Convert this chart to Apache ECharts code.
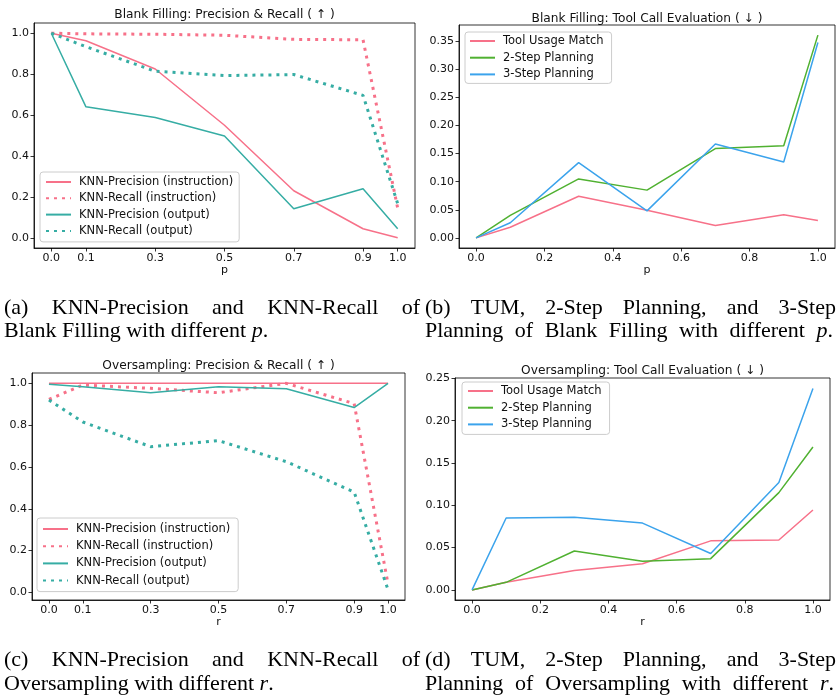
<!DOCTYPE html>
<html><head><meta charset="utf-8">
<script src="https://cdn.jsdelivr.net/npm/echarts@6/dist/echarts.min.js"></script>
<style>html,body{margin:0;padding:0;background:#fff}#c{width:839px;height:700px}</style>
</head><body><div id="c"></div>
<script>
// ---------- data ----------
const xs = [0.0, 0.1, 0.3, 0.5, 0.7, 0.9, 1.0];
const xTicksPR = [0.0, 0.1, 0.3, 0.5, 0.7, 0.9, 1.0];
const xTicksTool = [0.0, 0.2, 0.4, 0.6, 0.8, 1.0];
const yTicksPR = [0.0, 0.2, 0.4, 0.6, 0.8, 1.0];
const yTicksB = [0.00, 0.05, 0.10, 0.15, 0.20, 0.25, 0.30, 0.35];
const yTicksD = [0.00, 0.05, 0.10, 0.15, 0.20, 0.25];

// (a) Blank Filling: Precision & Recall
const aPrecInstr = [1.0, 0.963, 0.825, 0.55, 0.23, 0.044, 0.0];
const aRecInstr  = [1.0, 0.997, 0.995, 0.99, 0.97, 0.968, 0.145];
const aPrecOut   = [1.0, 0.64, 0.588, 0.498, 0.142, 0.24, 0.044];
const aRecOut    = [1.0, 0.934, 0.814, 0.793, 0.798, 0.696, 0.167];
// (b) Blank Filling: Tool Call Evaluation
const bTUM   = [0, 0.019, 0.074, 0.049, 0.022, 0.041, 0.031];
const b2Step = [0, 0.040, 0.105, 0.085, 0.159, 0.164, 0.361];
const b3Step = [0, 0.027, 0.134, 0.048, 0.167, 0.135, 0.348];
// (c) Oversampling: Precision & Recall
const cPrecInstr = [1.0, 1.0, 1.0, 1.0, 1.0, 1.0, 1.0];
const cRecInstr  = [0.923, 0.992, 0.976, 0.955, 1.0, 0.903, 0.04];
const cPrecOut   = [0.995, 0.984, 0.955, 0.984, 0.974, 0.884, 1.0];
const cRecOut    = [0.92, 0.815, 0.697, 0.726, 0.625, 0.48, 0.013];
// (d) Oversampling: Tool Call Evaluation
const dTUM   = [0, 0.009, 0.023, 0.031, 0.058, 0.059, 0.0945];
const d2Step = [0, 0.009, 0.046, 0.034, 0.037, 0.115, 0.169];
const d3Step = [0, 0.085, 0.086, 0.079, 0.043, 0.127, 0.238];

const titles = ['Blank Filling: Precision & Recall ( \u2191 )', 'Blank Filling: Tool Call Evaluation ( \u2193 )',
                'Oversampling: Precision & Recall ( \u2191 )', 'Oversampling: Tool Call Evaluation ( \u2193 )'];
const prNames = ['KNN-Precision (instruction)', 'KNN-Recall (instruction)', 'KNN-Precision (output)', 'KNN-Recall (output)'];
const toolNames = ['Tool Usage Match', '2-Step Planning', '3-Step Planning'];

// ---------- styling ----------
const PINK = '#f77189', TEAL = '#36ada4', GREEN = '#50b131', BLUE = '#3ba3ec';
const FONT = 'DejaVu Sans';
const grids = [
  {left: 34, top: 23, width: 381, height: 225},
  {left: 459, top: 25, width: 376, height: 223},
  {left: 32, top: 373, width: 373, height: 227},
  {left: 455, top: 378, width: 375, height: 222}
];
const yRanges = [[-0.05, 1.05], [-0.01805, 0.37905], [-0.0364, 1.0494], [-0.0119, 0.2505]];
const xTickSets = [xTicksPR, xTicksTool, xTicksPR, xTicksTool];
const yTickSets = [yTicksPR, yTicksB, yTicksPR, yTicksD];
const yDec = [1, 2, 1, 2];
const xNames = ['p', 'p', 'r', 'r'];

const xAxis = [], yAxis = [], title = [];
grids.forEach((g, i) => {
  xAxis.push({
    gridIndex: i, type: 'value', min: -0.05, max: 1.05,
    axisLine: {show: true, onZero: false, lineStyle: {color: '#000', width: 0.8}},
    splitLine: {show: false},
    axisTick: {show: true, length: 3.5, lineStyle: {color: '#000', width: 0.8}, customValues: xTickSets[i]},
    axisLabel: {customValues: xTickSets[i], formatter: v => v.toFixed(1), fontSize: 11, color: '#111', margin: 5, fontFamily: FONT},
    name: xNames[i], nameLocation: 'middle', nameGap: 17,
    nameTextStyle: {fontSize: 11, color: '#111', fontFamily: FONT}
  });
  yAxis.push({
    gridIndex: i, type: 'value', min: yRanges[i][0], max: yRanges[i][1],
    axisLine: {show: true, onZero: false, lineStyle: {color: '#000', width: 0.8}},
    splitLine: {show: false},
    axisTick: {show: true, length: 3.5, lineStyle: {color: '#000', width: 0.8}, customValues: yTickSets[i]},
    axisLabel: {customValues: yTickSets[i], formatter: v => v.toFixed(yDec[i]), fontSize: 11, color: '#111', margin: 5, fontFamily: FONT}
  });
});
const titleY = [16, 20, 367, 372];
grids.forEach((g, i) => {
  title.push({text: titles[i], left: g.left + g.width / 2, top: titleY[i] - 7, textAlign: 'center',
    textStyle: {fontSize: 12.2, fontWeight: 'normal', color: '#111', fontFamily: FONT}, padding: 0});
});

function pts(arr) { return xs.map((x, i) => [x, arr[i]]); }
function solid(name, arr, color, gi) {
  return {type: 'line', name, xAxisIndex: gi, yAxisIndex: gi, data: pts(arr), symbol: 'none', showSymbol: false,
    lineStyle: {color, width: 1.5}, itemStyle: {color}, animation: false};
}
function dotted(name, arr, color, gi) {
  return {type: 'line', name, xAxisIndex: gi, yAxisIndex: gi, data: pts(arr), symbol: 'none', showSymbol: false,
    lineStyle: {color, width: 3, type: [3, 5], cap: 'butt'}, itemStyle: {color}, animation: false};
}
const series = [
  solid(prNames[0], aPrecInstr, PINK, 0), dotted(prNames[1], aRecInstr, PINK, 0),
  solid(prNames[2], aPrecOut, TEAL, 0), dotted(prNames[3], aRecOut, TEAL, 0),
  solid(toolNames[0], bTUM, PINK, 1), solid(toolNames[1], b2Step, GREEN, 1), solid(toolNames[2], b3Step, BLUE, 1),
  solid(prNames[0], cPrecInstr, PINK, 2), dotted(prNames[1], cRecInstr, PINK, 2),
  solid(prNames[2], cPrecOut, TEAL, 2), dotted(prNames[3], cRecOut, TEAL, 2),
  solid(toolNames[0], dTUM, PINK, 3), solid(toolNames[1], d2Step, GREEN, 3), solid(toolNames[2], d3Step, BLUE, 3)
];

function mkLegend(names, left, top, gap, pad) {
  return {data: names, orient: 'vertical', left, top, itemWidth: 25, itemHeight: 12, itemGap: gap,
    padding: pad, backgroundColor: 'rgba(255,255,255,0.8)', borderColor: '#cccccc', borderWidth: 1, borderRadius: 3,
    selectedMode: false,
    itemStyle: {opacity: 0, borderWidth: 0},
    textStyle: {fontSize: 11.5, color: '#111', fontFamily: FONT, lineHeight: 12, padding: [0, 0, 0, 3]}};
}
const legend = [
  mkLegend(prNames, 40, 172, 4.3, [4, 6, 5, 5]),
  mkLegend(toolNames, 465, 32, 4.7, [3, 8, 3, 4]),
  mkLegend(prNames, 37, 518, 5.2, [5, 8, 5, 5]),
  mkLegend(toolNames, 462, 382, 4.7, [3, 8, 4, 5])
];

// ---------- captions (justified text lines) ----------
const CAP_FONT = 'Liberation Serif';
const CAP_SIZE = 22;
const mctx = document.createElement('canvas').getContext('2d');
function segs(word) { return word.split('*').map((t, k) => ({t, it: k % 2 === 1})).filter(s => s.t.length); }
function segW(s) { mctx.font = (s.it ? 'italic ' : '') + CAP_SIZE + 'px "' + CAP_FONT + '"'; return mctx.measureText(s.t).width; }
function wordW(w) { return segs(w).reduce((a, s) => a + segW(s), 0); }
const graphic = [];
function line(text, x0, y, x1) {
  const words = text.split(' ');
  const widths = words.map(wordW);
  const total = widths.reduce((a, b) => a + b, 0);
  mctx.font = CAP_SIZE + 'px "' + CAP_FONT + '"';
  let gap = mctx.measureText(' ').width;
  if (x1 !== undefined && words.length > 1) gap = (x1 - x0 - total) / (words.length - 1);
  let x = x0;
  words.forEach((w, k) => {
    segs(w).forEach(s => {
      graphic.push({type: 'text', x, y, silent: true, style: {text: s.t, fill: '#000',
        font: (s.it ? 'italic ' : '') + CAP_SIZE + 'px "' + CAP_FONT + '"', textVerticalAlign: 'middle'}});
      x += segW(s);
    });
    x += gap;
  });
}
line('(a) KNN-Precision and KNN-Recall of', 4, 308, 420);
line('Blank Filling with different *p*.', 4, 331);
line('(b) TUM, 2-Step Planning, and 3-Step', 425, 308, 836);
line('Planning of Blank Filling with different *p*.', 425, 331, 833);
line('(c) KNN-Precision and KNN-Recall of', 4, 660, 420);
line('Oversampling with different *r*.', 4, 684);
line('(d) TUM, 2-Step Planning, and 3-Step', 425, 660, 836);
line('Planning of Oversampling with different *r*.', 425, 684, 834);

const chart = echarts.init(document.getElementById('c'), null, {renderer: 'canvas'});
chart.setOption({
  animation: false,
  backgroundColor: '#fff',
  title,
  grid: grids.map(g => Object.assign({show: true, borderColor: '#000', borderWidth: 0.8, backgroundColor: 'transparent', containLabel: false}, g)),
  xAxis, yAxis, legend, series, graphic
});
</script></body></html>
